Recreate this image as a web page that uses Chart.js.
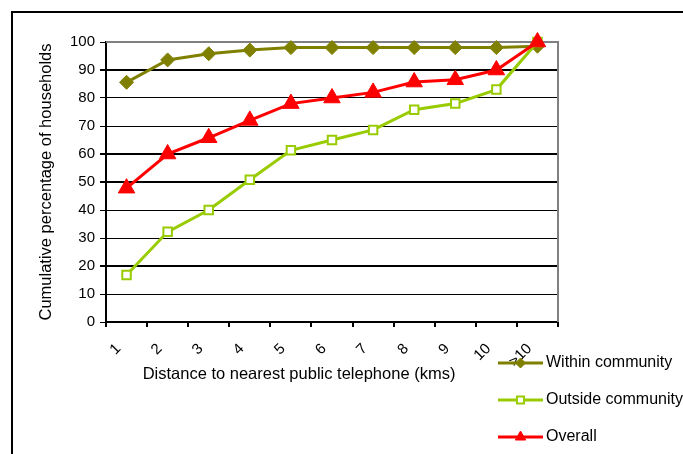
<!DOCTYPE html>
<html>
<head>
<meta charset="utf-8">
<script src="https://cdn.jsdelivr.net/npm/chart.js@4/dist/chart.umd.min.js"></script>
<style>
  html, body { margin: 0; padding: 0; background: #ffffff; }
  canvas { display: block; }
</style>
</head>
<body>
<canvas id="chart" width="683" height="454"></canvas>
<script>
// Distance bands (km) and cumulative share of households (%)
const distanceLabels = ['1', '2', '3', '4', '5', '6', '7', '8', '9', '10', '>10'];
const withinCommunity = [85.6, 93.6, 95.8, 97.1, 98, 98, 98, 98, 98, 98, 98.5];
const outsideCommunity = [16.8, 32.2, 40, 50.8, 61.3, 65, 68.6, 75.8, 78, 83, 100];
const overall = [47.8, 60, 65.8, 72, 78, 80, 82, 85.7, 86.5, 90, 100];

const FONT = 'Arial, "Liberation Sans", sans-serif';
const OLIVE = '#808000';
const LIME = '#99CC00';
const RED = '#FF0000';
const heavyGridValues = [20, 50, 60, 90];

// Outer frame, plot frame, x-axis title and the legend block
const framePlugin = {
  id: 'frame',
  beforeDraw(chart) {
    const ctx = chart.ctx;
    ctx.save();
    ctx.fillStyle = '#ffffff';
    ctx.fillRect(0, 0, chart.width, chart.height);
    ctx.strokeStyle = '#000000';
    ctx.lineWidth = 2;
    ctx.beginPath();
    ctx.moveTo(12, chart.height);
    ctx.lineTo(12, 12);
    ctx.lineTo(chart.width, 12);
    ctx.stroke();
    ctx.restore();
  },
  beforeDatasetsDraw(chart) {
    const {ctx, chartArea: a} = chart;
    ctx.save();
    ctx.strokeStyle = '#808080';
    ctx.lineWidth = 2;
    ctx.beginPath();
    ctx.moveTo(a.left, a.top);
    ctx.lineTo(a.right, a.top);
    ctx.lineTo(a.right, a.bottom);
    ctx.stroke();
    ctx.restore();
  },
  afterDraw(chart) {
    const ctx = chart.ctx;
    ctx.save();
    ctx.fillStyle = '#000000';
    ctx.font = '16.5px ' + FONT;
    ctx.textAlign = 'center';
    ctx.textBaseline = 'middle';
    ctx.fillText('Distance to nearest public telephone (kms)', 299, 374);

    // legend
    const rows = [363, 400, 437];
    const markerSizes = [5, 5, 6];
    chart.data.datasets.forEach((ds, i) => {
      const y = rows[i];
      ctx.strokeStyle = ds.borderColor;
      ctx.lineWidth = 3;
      ctx.beginPath();
      ctx.moveTo(498, y);
      ctx.lineTo(543, y);
      ctx.stroke();
      ctx.fillStyle = ds.pointBackgroundColor;
      ctx.strokeStyle = ds.borderColor;
      ctx.lineWidth = ds.pointBorderWidth;
      Chart.helpers.drawPoint(ctx, {
        pointStyle: ds.pointStyle,
        radius: markerSizes[i],
        borderWidth: ds.pointBorderWidth,
        rotation: 0
      }, 520.5, y);
      ctx.fillStyle = '#000000';
      ctx.font = '16px ' + FONT;
      ctx.textAlign = 'left';
      ctx.textBaseline = 'middle';
      ctx.fillText(ds.label, 546, y);
    });
    ctx.restore();
  }
};

new Chart(document.getElementById('chart'), {
  type: 'line',
  data: {
    labels: distanceLabels,
    datasets: [
      {
        label: 'Within community',
        data: withinCommunity,
        borderColor: OLIVE,
        backgroundColor: OLIVE,
        pointBackgroundColor: OLIVE,
        pointBorderColor: OLIVE,
        borderWidth: 3,
        pointStyle: 'rectRot',
        pointRadius: 7,
        pointBorderWidth: 1,
        order: 2
      },
      {
        label: 'Outside community',
        data: outsideCommunity,
        borderColor: LIME,
        backgroundColor: '#ffffff',
        pointBackgroundColor: '#ffffff',
        pointBorderColor: LIME,
        borderWidth: 3,
        pointStyle: 'rect',
        pointRadius: 6,
        pointBorderWidth: 2,
        order: 1
      },
      {
        label: 'Overall',
        data: overall,
        borderColor: RED,
        backgroundColor: RED,
        pointBackgroundColor: RED,
        pointBorderColor: RED,
        borderWidth: 3,
        pointStyle: 'triangle',
        pointRadius: 9.5,
        pointBorderWidth: 1,
        order: 0
      }
    ]
  },
  options: {
    responsive: false,
    animation: false,
    devicePixelRatio: 1,
    clip: false,
    layout: { padding: { left: 0, top: 42, right: 125, bottom: 0 } },
    elements: { line: { tension: 0, fill: false } },
    plugins: { legend: { display: false }, tooltip: { enabled: false } },
    scales: {
      x: {
        offset: true,
        grid: {
          offset: true,
          drawOnChartArea: false,
          drawTicks: true,
          tickLength: 5,
          color: '#000000',
          lineWidth: 2
        },
        border: { color: '#000000', width: 2 },
        ticks: {
          font: { family: FONT, size: 15 },
          color: '#000000',
          minRotation: 45,
          maxRotation: 45,
          autoSkip: false,
          labelOffset: -8,
          padding: 13
        },
        afterFit(scale) { scale.height = 132; }
      },
      y: {
        min: 0,
        max: 100,
        ticks: {
          stepSize: 10,
          font: { family: FONT, size: 15 },
          color: '#000000',
          padding: 5
        },
        grid: {
          color: (c) => (c.tick && c.tick.value === 100 ? '#808080' : '#000000'),
          lineWidth: (c) => (c.tick && heavyGridValues.includes(c.tick.value) ? 2 : 1),
          tickColor: '#000000',
          tickLength: 6
        },
        border: { color: '#000000', width: 2 },
        title: {
          display: true,
          text: 'Cumulative percentage of households',
          font: { family: FONT, size: 16.5 },
          color: '#000000',
          padding: { top: 37, bottom: 0 }
        },
        afterFit(scale) { scale.width = 106; }
      }
    }
  },
  plugins: [framePlugin]
});
</script>
</body>
</html>
